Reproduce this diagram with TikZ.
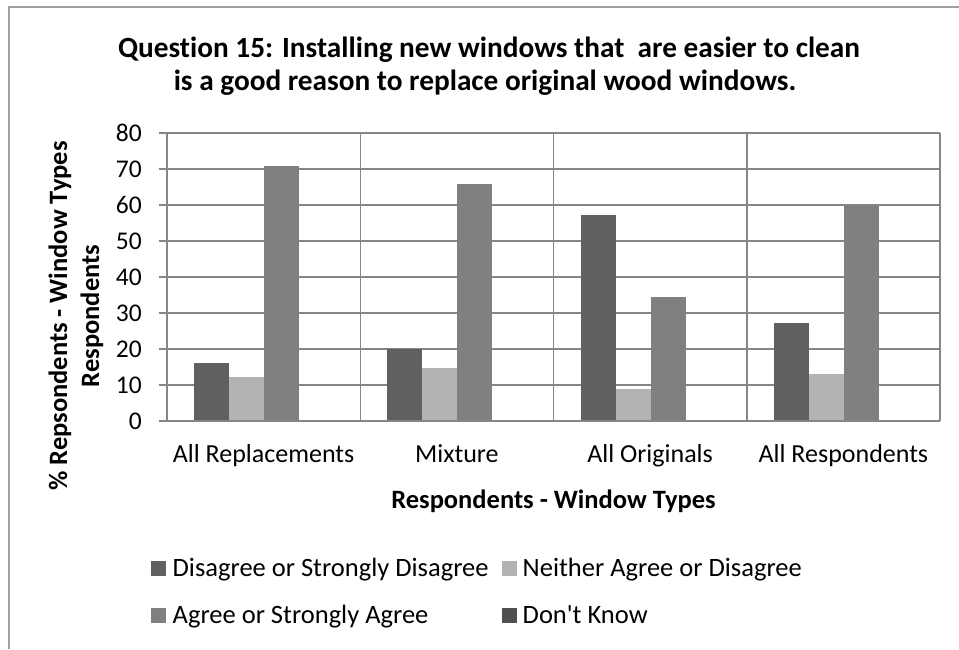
\documentclass[tikz,border=0pt]{standalone}
\usepackage{fontspec}
\newfontfamily\calfont{Carlito}[Ligatures=NoCommon]
\definecolor{sDark}{HTML}{606060}
\definecolor{sLight}{HTML}{B3B3B3}
\definecolor{sMid}{HTML}{808080}
\definecolor{sDK}{HTML}{505050}
\definecolor{gridc}{HTML}{868686}
\definecolor{framec}{HTML}{A0A0A0}
\tikzset{
  gridline/.style={draw=gridc, line width=1.5pt},
  ticklbl/.style={font=\calfont\fontsize{25.5}{30}\selectfont, inner sep=0pt},
  catlbl/.style={font=\calfont\fontsize{26}{30}\selectfont, inner sep=0pt, anchor=base},
  axtitle/.style={font=\calfont\bfseries\fontsize{26.5}{32}\selectfont, inner sep=0pt, align=center},
  titlefont/.style={font=\calfont\bfseries\fontsize{29.3}{33}\selectfont, inner sep=0pt, anchor=base},
  legtxt/.style={font=\calfont\fontsize{26.5}{30}\selectfont, inner sep=0pt, anchor=base west},
  legsq/.style={inner sep=0pt, minimum size=15pt, anchor=south west},
}
\begin{document}
\begin{tikzpicture}[x=1pt,y=-1pt]
\useasboundingbox (0,0) rectangle (959,649);
\fill[white] (0,0) rectangle (959,649);
% frame
\draw[framec, line width=1.5pt] (9,649) -- (9,7) -- (959,7);
% title
\node[titlefont] (title1) at (489,57) {Question 15: Installing new windows that\ \ are easier to clean};
\node[titlefont] (title2) at (485,90) {is a good reason to replace original wood windows.};
% gridlines and ticks
\foreach \v in {0,10,...,80}{
  \draw[gridline] (159,{421-3.6*\v}) -- (940,{421-3.6*\v});
  \node[ticklbl, anchor=east] (t\v) at (142,{421-3.6*\v}) {\v};
}
% category dividers and borders
\foreach \k in {0,1,2,3,4}{
  \draw[gridline] ({167+193.25*\k},133) -- ({167+193.25*\k},421);
}
% bars
\foreach \k/\a/\b/\c in {0/16.2/12.1/70.9, 1/19.9/14.6/65.7, 2/57.1/8.8/34.4, 3/27.2/13.1/60}{
  \pgfmathsetmacro{\cx}{167+193.25*\k}
  \fill[sDark] ({\cx+27},421) rectangle ({\cx+62},{421-3.6*\a});
  \fill[sLight] ({\cx+62},421) rectangle ({\cx+97},{421-3.6*\b});
  \fill[sMid] ({\cx+97},421) rectangle ({\cx+132},{421-3.6*\c});
}
\draw[gridline] (159,421) -- (940,421);
% category labels
\node[catlbl] (c1) at (263.6,462) {All Replacements};
\node[catlbl] (c2) at (456.9,462) {Mixture};
\node[catlbl] (c3) at (650.1,462) {All Originals};
\node[catlbl] (c4) at (843.4,462) {All Respondents};
% axis titles
\node[axtitle, anchor=base] (xt) at (553.5,508) {Respondents - Window Types};
\node[axtitle, rotate=90] (yt) at (76,316) {\% Repsondents - Window Types\\Respondents};
% legend
\node[legsq, fill=sDark] (l1s) at (151,576) {};
\node[legtxt] (l1) at (172.5,576) {Disagree or Strongly Disagree};
\node[legsq, fill=sLight] (l2s) at (502,576) {};
\node[legtxt] (l2) at (522.5,576) {Neither Agree or Disagree};
\node[legsq, fill=sMid] (l3s) at (151,623) {};
\node[legtxt] (l3) at (172.5,623) {Agree or Strongly Agree};
\node[legsq, fill=sDK] (l4s) at (502,623) {};
\node[legtxt] (l4) at (522.5,623) {Don't Know};
\end{tikzpicture}
\end{document}
